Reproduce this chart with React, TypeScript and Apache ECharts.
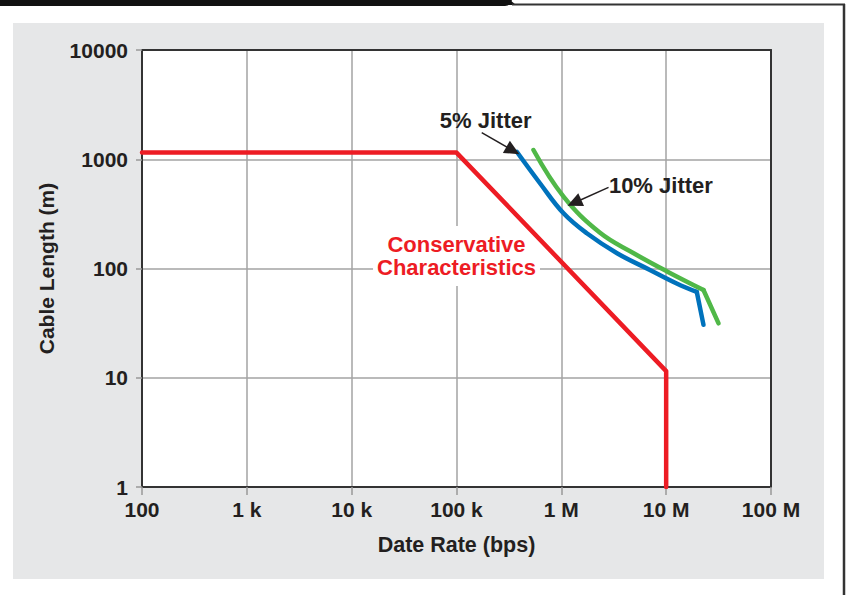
import React, { useEffect, useRef } from "react";
import * as echarts from "echarts";

const xTickLabels = ["100", "1 k", "10 k", "100 k", "1 M", "10 M", "100 M"];
const yTickLabels = ["1", "10", "100", "1000", "10000"];

const conservative: [number, number][] = [
  [100, 1150],
  [1e5, 1150],
  [1e7, 11.5],
  [1e7, 1],
];
const jitter5Curve: [number, number][] = [
  [376e3, 1170],
  [628e3, 600],
  [1.05e6, 320],
  [1.75e6, 210],
  [3.4e6, 138],
  [7e6, 97],
  [12.6e6, 73],
  [19.6e6, 61],
];
const jitter5Tail: [number, number][] = [
  [19.6e6, 61],
  [22.7e6, 30.5],
];
const jitter10Curve: [number, number][] = [
  [542e3, 1215],
  [1.05e6, 455],
  [2.34e6, 212],
  [4.9e6, 138],
  [10.2e6, 94],
  [22.7e6, 63.5],
];
const jitter10Tail: [number, number][] = [
  [22.7e6, 63.5],
  [31.6e6, 31.5],
];

const arrow5: [number, number][] = [
  [174e3, 1750],
  [345e3, 1200],
];
const arrow10: [number, number][] = [
  [2.82e6, 553],
  [1.33e6, 400],
];
const label5Pos: [number, number] = [1.9e5, 2240];
const label10Pos: [number, number] = [8.9e6, 570];
const conservPos: [number, number] = [1e5, 130];

const FONT = '"Liberation Sans", Arial, Helvetica, sans-serif';
const DARK = "#231f20";
const RED = "#ed1c24";
const BLUE = "#0072bc";
const GREEN = "#50b848";

export default function App() {
  const ref = useRef<HTMLDivElement>(null);
  useEffect(() => {
    if (!ref.current) return;
    const chart = echarts.init(ref.current, undefined, { renderer: "svg" });
    const xFmt = (v: number) => xTickLabels[Math.round(Math.log10(v)) - 2] ?? "";
    const yFmt = (v: number) => yTickLabels[Math.round(Math.log10(v))] ?? "";
    const lineBase = (color: string, data: [number, number][], smooth: number | boolean, z = 5) => ({
      type: "line",
      data,
      showSymbol: false,
      symbol: "none",
      smooth,
      z,
      lineStyle: { color, width: 4.5, cap: "round", join: "round" },
      silent: true,
    });
    chart.setOption({
      animation: false,
      backgroundColor: "#ffffff",
      graphic: [
        { type: "rect", shape: { x: 13, y: 23, width: 811, height: 556 }, style: { fill: "#e6e7e8" }, z: -10 },
        { type: "rect", shape: { x: -10, y: -10, width: 522, height: 16, r: 7 }, style: { fill: "#111" }, z: -5 },
        { type: "polygon", shape: { points: [[500, 0], [510, 0], [516, 5], [500, 5]] }, style: { fill: "#111" }, z: -5 },
        { type: "line", shape: { x1: 512, y1: 4.5, x2: 845, y2: 4.5 }, style: { stroke: "#333", lineWidth: 2 }, z: -5 },
        { type: "line", shape: { x1: 844, y1: 4, x2: 844, y2: 600 }, style: { stroke: "#333", lineWidth: 2.5 }, z: -5 },
      ],
      grid: {
        left: 142,
        top: 50,
        width: 629,
        height: 437,
        show: true,
        backgroundColor: "#ffffff",
        borderWidth: 0,
      },
      xAxis: [
        {
          type: "log",
          logBase: 10,
          min: 100,
          max: 1e8,
          name: "Date Rate (bps)",
          nameLocation: "middle",
          nameGap: 47,
          nameTextStyle: { fontFamily: FONT, fontWeight: "bold", fontSize: 21.5, color: DARK },
          axisLine: { show: true, onZero: false, lineStyle: { color: "#333", width: 2 } },
          axisTick: { show: true, length: 8, lineStyle: { color: "#999", width: 1.5 } },
          minorTick: { show: false },
          axisLabel: { formatter: xFmt, fontFamily: FONT, fontWeight: "bold", fontSize: 21, color: DARK, margin: 12 },
          splitLine: { show: true, lineStyle: { color: "#a3a3a3", width: 1.5 } },
        },
        {
          type: "log",
          logBase: 10,
          min: 100,
          max: 1e8,
          position: "top",
          axisLine: { show: true, onZero: false, lineStyle: { color: "#333", width: 2 } },
          axisTick: { show: false },
          axisLabel: { show: false },
          splitLine: { show: false },
        },
      ],
      yAxis: [
        {
          type: "log",
          logBase: 10,
          min: 1,
          max: 10000,
          name: "Cable Length (m)",
          nameLocation: "middle",
          nameGap: 85,
          nameRotate: 90,
          nameTextStyle: { fontFamily: FONT, fontWeight: "bold", fontSize: 21, color: DARK },
          axisLine: { show: true, onZero: false, lineStyle: { color: "#333", width: 2 } },
          axisTick: { show: true, length: 6, lineStyle: { color: "#999", width: 1.5 } },
          axisLabel: { formatter: yFmt, fontFamily: FONT, fontWeight: "bold", fontSize: 21, color: DARK, margin: 14 },
          splitLine: { show: true, lineStyle: { color: "#a3a3a3", width: 1.5 } },
        },
        {
          type: "log",
          logBase: 10,
          min: 1,
          max: 10000,
          position: "right",
          axisLine: { show: true, onZero: false, lineStyle: { color: "#333", width: 2 } },
          axisTick: { show: false },
          axisLabel: { show: false },
          splitLine: { show: false },
        },
      ],
      series: [
        {
          type: "line",
          data: [],
          z: 1,
          silent: true,
          markPoint: {
            silent: true,
            z: 1,
            symbol: "rect",
            symbolSize: 0,
            data: [
              {
                coord: conservPos,
                label: {
                  show: true,
                  position: "inside",
                  formatter: "Conservative\nCharacteristics",
                  fontFamily: FONT,
                  fontWeight: "bold",
                  fontSize: 22,
                  lineHeight: 23,
                  color: RED,
                  align: "center",
                  backgroundColor: "#ffffff",
                  padding: [7, 4, 7, 4],
                },
              },
              {
                coord: label5Pos,
                label: {
                  show: true,
                  position: "inside",
                  formatter: "5% Jitter",
                  fontFamily: FONT,
                  fontWeight: "bold",
                  fontSize: 22,
                  color: DARK,
                },
              },
              {
                coord: label10Pos,
                label: {
                  show: true,
                  position: "inside",
                  formatter: "10% Jitter",
                  fontFamily: FONT,
                  fontWeight: "bold",
                  fontSize: 22,
                  color: DARK,
                },
              },
            ],
          },
          markLine: {
            silent: true,
            z: 6,
            symbol: ["none", "triangle"],
            symbolSize: [14, 15],
            label: { show: false },
            lineStyle: { color: DARK, width: 1.5, type: "solid" },
            data: [
              [{ coord: arrow5[0] }, { coord: arrow5[1] }],
              [{ coord: arrow10[0] }, { coord: arrow10[1] }],
            ],
          },
        },
        lineBase(RED, conservative, false, 5),
        lineBase(BLUE, jitter5Curve, 0.4),
        lineBase(BLUE, jitter5Tail, false),
        lineBase(GREEN, jitter10Curve, 0.4),
        lineBase(GREEN, jitter10Tail, false),
      ],
    });
    return () => chart.dispose();
  }, []);
  return <div ref={ref} style={{ position: "fixed", left: 0, top: 0, width: 848, height: 595 }} />;
}
